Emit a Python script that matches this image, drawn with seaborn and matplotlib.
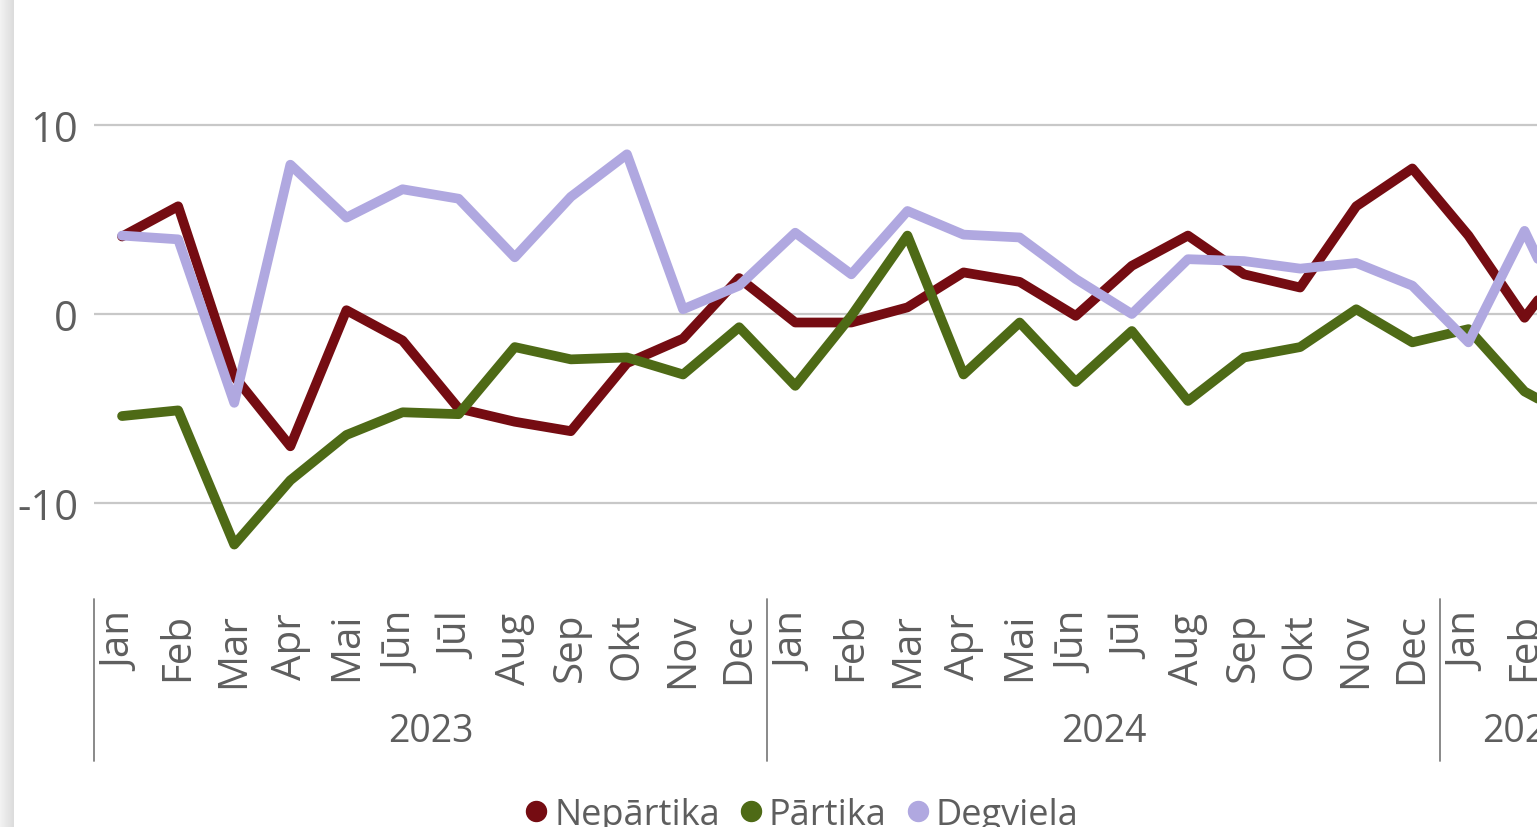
import numpy as np
import pandas as pd
import matplotlib
matplotlib.use("Agg")
import matplotlib.pyplot as plt
import matplotlib.transforms as mtransforms
from matplotlib.lines import Line2D
import seaborn as sns

# ---------------- data ----------------
months = ["Jan", "Feb", "Mar", "Apr", "Mai", "Jūn", "Jūl", "Aug", "Sep", "Okt", "Nov", "Dec",
          "Jan", "Feb", "Mar", "Apr", "Mai", "Jūn", "Jūl", "Aug", "Sep", "Okt", "Nov", "Dec",
          "Jan", "Feb", "Mar"]
years = ["2023", "2024", "2025"]
year_lengths = [12, 12, 3]

nepartika = [4.1, 5.7, -3.3, -7.0, 0.2, -1.4, -5.0, -5.7, -6.2, -2.6, -1.3, 1.9,
             -0.45, -0.45, 0.35, 2.2, 1.7, -0.1, 2.55, 4.15, 2.1, 1.4, 5.7, 7.7,
             4.15, -0.2, 3.7]
partika = [-5.4, -5.1, -12.2, -8.8, -6.4, -5.2, -5.3, -1.75, -2.4, -2.3, -3.2, -0.7,
           -3.8, -0.1, 4.15, -3.2, -0.45, -3.6, -0.9, -4.6, -2.3, -1.75, 0.25, -1.5,
           -0.8, -4.1, -5.7]
degviela = [4.15, 3.95, -4.7, 7.9, 5.1, 6.6, 6.1, 3.0, 6.2, 8.45, 0.25, 1.5,
            4.3, 2.1, 5.45, 4.2, 4.05, 1.85, 0.0, 2.9, 2.8, 2.4, 2.7, 1.5,
            -1.5, 4.4, -1.8]

series_names = ["Nepārtika", "Pārtika", "Degviela"]
series_colors = ["#750c12", "#4e6a16", "#b0a8e0"]

y_ticks = [-10, 0, 10]

# ---------------- style ----------------
sns.set_theme(style="white")
plt.rcParams["font.family"] = ["Open Sans", "DejaVu Sans"]
text_color = "#5e5e5e"

W, H = 1537, 828
fig = plt.figure(figsize=(W / 100, H / 100), dpi=100)

n = len(months)
px_per_cat = 56.1
ax_left_px = 94
ax_top_px = 31.5
ax_bottom_px = 598.5
ax = fig.add_axes([ax_left_px / W, (H - ax_bottom_px) / H,
                   n * px_per_cat / W, (ax_bottom_px - ax_top_px) / H])

# left shadow strip
sax = fig.add_axes([0, 0, 14 / W, 1])
grad = np.linspace(0.95, 0.86, 50).reshape(1, -1)
sax.imshow(grad, aspect="auto", cmap="gray", vmin=0, vmax=1, extent=[0, 1, 0, 1])
sax.set_axis_off()

df = pd.DataFrame({
    "x": list(range(n)) * 3,
    "value": nepartika + partika + degviela,
    "series": sum([[s] * n for s in series_names], []),
})

sns.lineplot(data=df, x="x", y="value", hue="series", hue_order=series_names,
             palette=series_colors, linewidth=7, sort=False, estimator=None,
             legend=False, ax=ax)
for ln in ax.get_lines():
    ln.set_solid_joinstyle("round")
    ln.set_solid_capstyle("round")

ax.set_xlim(-0.5, n - 0.5)
ax.set_ylim(-15, 15)
ax.set_xlabel("")
ax.set_ylabel("")
for sp in ax.spines.values():
    sp.set_visible(False)

ax.set_yticks(y_ticks)
ax.set_yticklabels([str(v) for v in y_ticks], fontsize=30, color=text_color)
ax.set_xticks(range(n))
ax.set_xticklabels(months, rotation=90, fontsize=29, color=text_color)
ax.tick_params(axis="x", length=0, pad=10.4)
ax.tick_params(axis="y", length=0, pad=11.5)
ax.grid(axis="y", color="#c8c8c8", linewidth=1.6)
ax.grid(axis="x", visible=False)
ax.set_axisbelow(True)

# multi-level category axis: separators and year labels
trans = mtransforms.blended_transform_factory(ax.transData, ax.transAxes)
plot_h = ax_bottom_px - ax_top_px
y_sep_top = (ax_bottom_px - 600) / plot_h
y_sep_bot = (ax_bottom_px - 762) / plot_h
y_year = (ax_bottom_px - 732) / plot_h
start = 0
for yr, ln_ in zip(years, year_lengths):
    ax.plot([start - 0.5, start - 0.5], [y_sep_top, y_sep_bot], transform=trans,
            color="#808080", linewidth=1.3, clip_on=False)
    ax.text(start + (ln_ - 1) / 2, y_year, yr, transform=trans, ha="center",
            va="center", fontsize=27, color=text_color)
    start += ln_
ax.plot([start - 0.5, start - 0.5], [y_sep_top, y_sep_bot], transform=trans,
        color="#808080", linewidth=1.3, clip_on=False)

# legend
handles = [Line2D([], [], linestyle="none", marker="o", markersize=14.4,
                  markerfacecolor=c, markeredgecolor=c) for c in series_colors]
leg = fig.legend(handles=handles, labels=series_names, loc="center",
                 bbox_to_anchor=(802 / W, (H - 816) / H), ncol=3, frameon=False,
                 fontsize=26, handlelength=0.6, handletextpad=0.2,
                 columnspacing=0.55, borderpad=0, borderaxespad=0)
for t in leg.get_texts():
    t.set_color(text_color)

fig.savefig("out.png", dpi=100)
